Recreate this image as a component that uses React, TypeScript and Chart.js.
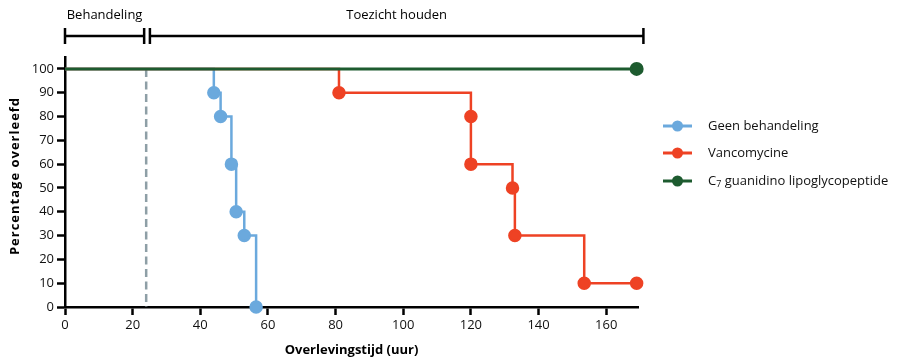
import React, { useEffect, useRef } from "react";
import { Chart, registerables } from "chart.js";

Chart.register(...registerables);

// ---- data ----
const seriesNames = ["Geen behandeling", "Vancomycine", "C7 guanidino lipoglycopeptide"];
const blueX = [0, 44, 46, 49.2, 50.6, 53, 56.5];
const blueY = [100, 90, 80, 60, 40, 30, 0];
const orangeX = [0, 81, 120, 120, 132.3, 133, 153.5, 169];
const orangeY = [100, 90, 80, 60, 50, 30, 10, 10];
const greenX = [0, 169];
const greenY = [100, 100];
const treatmentEnd = 24;
const phaseLabels = ["Behandeling", "Toezicht houden"];
const phaseRanges = [
  [0, 23.4],
  [25.1, 171],
];
const xTitle = "Overlevingstijd (uur)";
const yTitle = "Percentage overleefd";

const COLORS = ["#6BA9DD", "#EE4224", "#1D5B2F"];
const FONT = "'Open Sans', 'Noto Sans', sans-serif";

function pts(xs: number[], ys: number[]) {
  return xs.map((x, i) => ({ x, y: ys[i] }));
}
function radii(n: number) {
  return Array.from({ length: n }, (_, i) => (i === 0 ? 0 : 5.5));
}

const overlayPlugin = {
  id: "overlay",
  beforeDatasetsDraw(chart: any) {
    const { ctx, scales } = chart;
    const x = scales.x.getPixelForValue(treatmentEnd);
    ctx.save();
    ctx.strokeStyle = "#8E9FA6";
    ctx.lineWidth = 2.5;
    ctx.setLineDash([8, 4.5]);
    ctx.beginPath();
    ctx.moveTo(x, scales.y.getPixelForValue(100));
    ctx.lineTo(x, scales.y.getPixelForValue(0));
    ctx.stroke();
    ctx.restore();
  },
  afterDraw(chart: any) {
    const { ctx, scales, chartArea } = chart;
    ctx.save();
    // phase brackets
    ctx.strokeStyle = "#000";
    ctx.fillStyle = "#000";
    ctx.lineWidth = 2.5;
    const by = 36;
    phaseRanges.forEach((r, i) => {
      const x0 = scales.x.getPixelForValue(r[0]);
      const x1 = scales.x.getPixelForValue(r[1]);
      ctx.beginPath();
      ctx.moveTo(x0, by);
      ctx.lineTo(x1, by);
      ctx.moveTo(x0, by - 8);
      ctx.lineTo(x0, by + 8);
      ctx.moveTo(x1, by - 8);
      ctx.lineTo(x1, by + 8);
      ctx.stroke();
      ctx.font = `13px ${FONT}`;
      ctx.textAlign = "center";
      ctx.textBaseline = "middle";
      ctx.fillText(phaseLabels[i], (x0 + x1) / 2, 15);
    });

    // axis titles
    ctx.font = `bold 13px ${FONT}`;
    ctx.textAlign = "center";
    ctx.textBaseline = "middle";
    ctx.fillText(xTitle, (chartArea.left + chartArea.right) / 2, 350);
    ctx.save();
    ctx.translate(15, 176);
    ctx.rotate(-Math.PI / 2);
    (ctx as any).letterSpacing = "1px";
    ctx.fillText(yTitle, 0, 0);
    ctx.restore();

    // legend
    const lx0 = 663;
    const lx1 = 692;
    const rows = [126, 153, 181];
    seriesNames.forEach((name, i) => {
      const y = rows[i];
      ctx.strokeStyle = COLORS[i];
      ctx.fillStyle = COLORS[i];
      ctx.lineWidth = 3;
      ctx.beginPath();
      ctx.moveTo(lx0, y);
      ctx.lineTo(lx1, y);
      ctx.stroke();
      ctx.beginPath();
      ctx.arc((lx0 + lx1) / 2, y, 5.5, 0, Math.PI * 2);
      ctx.fill();
      ctx.fillStyle = "#111";
      ctx.textAlign = "left";
      ctx.textBaseline = "middle";
      if (name.startsWith("C7")) {
        ctx.font = `13px ${FONT}`;
        ctx.fillText("C", 708, y);
        const cw = ctx.measureText("C").width;
        ctx.font = `9px ${FONT}`;
        ctx.fillText("7", 708 + cw, y + 3);
        const sw = ctx.measureText("7").width;
        ctx.font = `13px ${FONT}`;
        ctx.fillText(name.slice(2), 708 + cw + sw, y);
      } else {
        ctx.font = `13px ${FONT}`;
        ctx.fillText(name, 708, y);
      }
    });
    ctx.restore();
  },
};

export default function App() {
  const ref = useRef<HTMLCanvasElement | null>(null);
  useEffect(() => {
    if (!ref.current) return;
    const chart = new Chart(ref.current, {
      type: "line",
      data: {
        datasets: [
          {
            label: seriesNames[0],
            data: pts(blueX, blueY),
            borderColor: COLORS[0],
            backgroundColor: COLORS[0],
            borderWidth: 2.5,
            stepped: "before",
            pointRadius: radii(blueX.length),
            pointHoverRadius: 0,
            clip: false,
            order: 2,
          },
          {
            label: seriesNames[1],
            data: pts(orangeX, orangeY),
            borderColor: COLORS[1],
            backgroundColor: COLORS[1],
            borderWidth: 2.5,
            stepped: "before",
            pointRadius: radii(orangeX.length),
            pointHoverRadius: 0,
            clip: false,
            order: 1,
          },
          {
            label: seriesNames[2],
            data: pts(greenX, greenY),
            borderColor: COLORS[2],
            backgroundColor: COLORS[2],
            borderWidth: 3,
            stepped: "before",
            pointRadius: radii(greenX.length),
            pointHoverRadius: 0,
            clip: false,
            order: 0,
          },
        ],
      },
      options: {
        responsive: false,
        animation: false,
        events: [],
        layout: { padding: { left: 0, top: 57, right: 259, bottom: 0 } },
        plugins: { legend: { display: false }, tooltip: { enabled: false } },
        scales: {
          x: {
            type: "linear",
            min: 0,
            max: 169.4,
            afterFit: (s: any) => {
              s.height = 54;
            },
            afterBuildTicks: (s: any) => {
              s.ticks = s.ticks.filter((t: any) => t.value % 20 === 0);
            },
            ticks: {
              stepSize: 20,
              includeBounds: false,
              color: "#111",
              font: { family: FONT, size: 13 },
              padding: 2,
              maxRotation: 0,
            },
            grid: {
              drawOnChartArea: false,
              drawTicks: true,
              tickLength: 8,
              tickWidth: 2.5,
              tickColor: "#000",
            },
            border: { display: true, color: "#000", width: 2.5 },
          },
          y: {
            type: "linear",
            min: 0,
            max: 105,
            afterFit: (s: any) => {
              s.width = 65;
            },
            afterBuildTicks: (s: any) => {
              s.ticks = s.ticks.filter((t: any) => t.value % 10 === 0 && t.value <= 100);
            },
            ticks: {
              stepSize: 10,
              includeBounds: false,
              color: "#111",
              font: { family: FONT, size: 13 },
              padding: 3,
            },
            grid: {
              drawOnChartArea: false,
              drawTicks: true,
              tickLength: 8,
              tickWidth: 2.5,
              tickColor: "#000",
            },
            border: { display: true, color: "#000", width: 2.5 },
          },
        },
      },
      plugins: [overlayPlugin],
    } as any);
    return () => chart.destroy();
  }, []);
  return (
    <div style={{ position: "absolute", left: 0, top: 0, width: 897, height: 361, background: "#fff" }}>
      <canvas ref={ref} width={897} height={361} style={{ display: "block", width: 897, height: 361 }} />
    </div>
  );
}
